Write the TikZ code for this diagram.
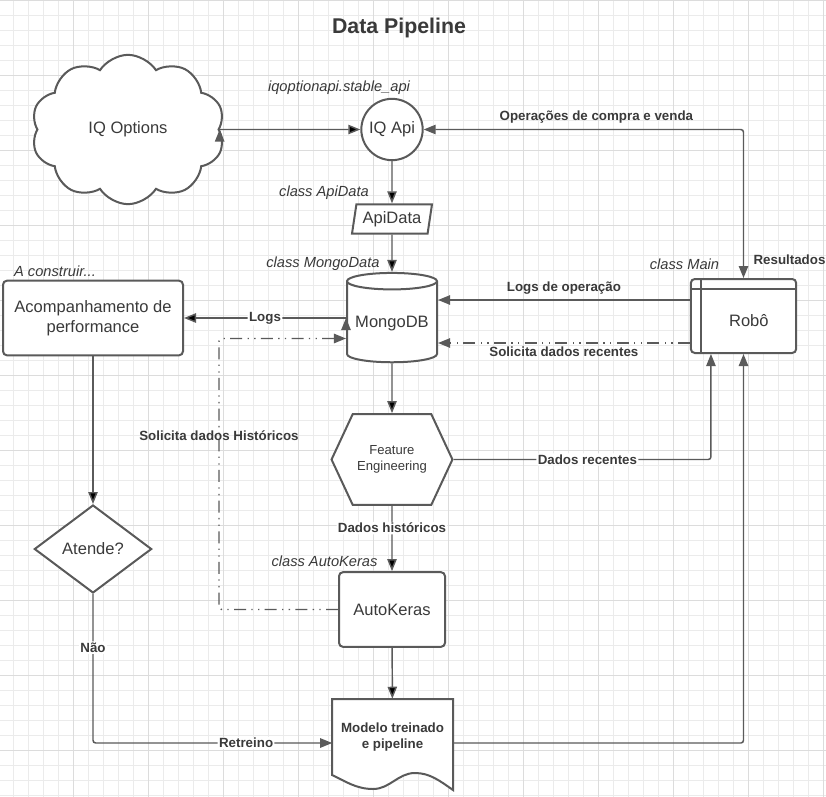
\documentclass[tikz,border=0pt]{standalone}
\usepackage{fontspec}
\setmainfont{Liberation Sans}
\usetikzlibrary{shapes.geometric,shapes.symbols,arrows.meta}

\definecolor{linegray}{HTML}{5A5A5A}
\definecolor{txtgray}{HTML}{3A3A3A}
\definecolor{gridminor}{HTML}{EBEBEB}
\definecolor{gridmajor}{HTML}{DCDCDC}

\tikzset{
  >={Triangle[length=9pt,width=7pt]},
  box/.style={draw=linegray, line width=1.5pt, fill=white, text=txtgray, align=center, font=\fontsize{12.4}{15}\selectfont},
  roundbox/.style={box, rectangle, rounded corners=3pt},
  conn/.style={draw=linegray, line width=1.1pt, rounded corners=2pt, ->},
  dashdot/.style={dash pattern=on 9pt off 4pt on 1pt off 4pt on 1pt off 4pt},
  lbl/.style={text=txtgray, font=\bfseries\fontsize{10}{12}\selectfont, inner sep=1pt},
  onlbl/.style={lbl, fill=white},
  classlbl/.style={text=txtgray, font=\itshape\fontsize{11}{13}\selectfont},
}

\begin{document}
\begin{tikzpicture}[x=0.75pt, y=-0.75pt]

	\useasboundingbox (0,0) rectangle (826,797);
	\fill[white] (0,0) rectangle (826,797);
	\foreach \i in {0,...,54} \draw[gridminor, line width=0.6pt] ({13.3+15*\i},0) -- ({13.3+15*\i},797);
	\foreach \j in {0,...,53} \draw[gridminor, line width=0.6pt] (0,{15*\j}) -- (826,{15*\j});
	\foreach \i in {0,...,10} \draw[gridmajor, line width=0.6pt] ({73.3+75*\i},0) -- ({73.3+75*\i},797);
	\foreach \j in {0,...,10} \draw[gridmajor, line width=0.6pt] (0,{75*\j}) -- (826,{75*\j});

	\node[text=txtgray, font=\bfseries\fontsize{16}{19}\selectfont] (title) at (399,28) {Data Pipeline};

	\node[box, cloud, cloud puffs=10, cloud puff arc=115, aspect=1.3, minimum width=145pt, minimum height=112pt] (iqopt) at (128,129.5) {IQ Options};
	\node[box, circle, minimum size=46pt, inner sep=0pt] (iqapi) at (392,129.5) {IQ Api};
	\node[box, trapezium, trapezium left angle=78, trapezium right angle=102, trapezium stretches body, minimum width=60pt, minimum height=22pt, inner sep=2pt] (apidata) at (392,219) {ApiData};
	\node[box, cylinder, shape border rotate=90, aspect=0.2, minimum width=67.5pt, minimum height=67pt] (mongo) at (392,324) {MongoDB};
	\node[roundbox, minimum width=135pt, minimum height=56pt] (acomp) at (93,318) {Acompanhamento de\\performance};
	\node[roundbox, minimum width=79pt, minimum height=55.5pt, text height=16pt, text depth=0pt] (robo) at (743.5,316) {\hspace*{8pt}Robô};
	\node[box, signal, signal to=west and east, signal pointer angle=130, minimum width=90pt, minimum height=68pt, font=\fontsize{9.8}{11.8}\selectfont] (feature) at (392,459.5) {Feature\\Engineering};
	\node[roundbox, minimum width=79.5pt, minimum height=56pt] (autokeras) at (392,609.5) {AutoKeras};
	\node[box, diamond, minimum width=88pt, minimum height=66pt, inner sep=0pt] (atende) at (93,549) {Atende?};

	% documento
	\draw[draw=linegray, line width=1.5pt, fill=white] (332,699) -- (453,699) -- (453,790) .. controls (440,781) and (430,773) .. (415,773) .. controls (398,773) and (390,789) .. (373,789) .. controls (356,789) and (345,781) .. (332,775) -- cycle;
	\node[lbl, font=\bfseries\fontsize{10}{12.5}\selectfont, align=center, minimum width=90pt, minimum height=57pt] (model) at (392.5,737) {Modelo treinado\\e pipeline};

	\draw[linegray, line width=1.5pt] ([xshift=8.25pt]robo.north west) -- ([xshift=8.25pt]robo.south west);
	\draw[linegray, line width=1.5pt] ([yshift=-8.25pt]robo.north west) -- ([yshift=-8.25pt]robo.north east);

	\node[classlbl] (lIqApi) at (339,88) {iqoptionapi.stable\_api};
	\node[classlbl] (lApiData) at (324,193) {class ApiData};
	\node[classlbl] (lMongo) at (323,264) {class MongoData};
	\node[classlbl] (lAcomp) at (55,271) {A construir...};
	\node[classlbl] (lMain) at (684.5,264) {class Main};
	\node[classlbl] (lAutoKeras) at (324.5,561) {class AutoKeras};

	\coordinate (hcorner) at (219,338.5);
	\coordinate (roboLog) at ([yshift=12pt]robo.west);
	\coordinate (roboReq) at ([yshift=-20.25pt]robo.west);

	\path[conn] (iqopt.east) edge (iqapi.west);
	\draw[conn, <->] (iqapi.east) -| node[lbl, pos=0.27, above=3pt] {Operações de compra e venda} node[lbl, pos=0.94, right=6pt] {Resultados} (robo.north);
	\path[conn] (iqapi) edge (apidata);
	\path[conn] (apidata) edge (mongo);
	\path[conn] (acomp.east -| mongo.west) edge node[onlbl] {Logs} (acomp.east);
	\draw[conn, dashdot] (autokeras.west) -| node[lbl, pos=0.82] {Solicita dados Históricos} (hcorner) -- (hcorner -| mongo.west);
	\draw[conn] (roboLog) -- node[lbl, above=3pt] {Logs de operação} (roboLog -| mongo.east);
	\draw[conn, dashdot] (roboReq) -- node[lbl, below=1pt] {Solicita dados recentes} (roboReq -| mongo.east);
	\path[conn] (mongo) edge (feature);
	\draw[conn] (feature.east) -| node[onlbl, pos=0.26] {Dados recentes} ([xshift=-24.4pt]robo.south);
	\path[conn] (feature) edge node[onlbl, pos=0.34] {Dados históricos} (autokeras);
	\path[conn] (autokeras) edge (model);
	\path[conn] (acomp) edge (atende);
	\draw[conn] (atende.south) |- node[onlbl, pos=0.18] {Não} node[onlbl, pos=0.82] {Retreino} ([yshift=-4.5pt]model.west);
	\draw[conn] ([yshift=-4.5pt]model.east) -| (robo.south);

\end{tikzpicture}
\end{document}
